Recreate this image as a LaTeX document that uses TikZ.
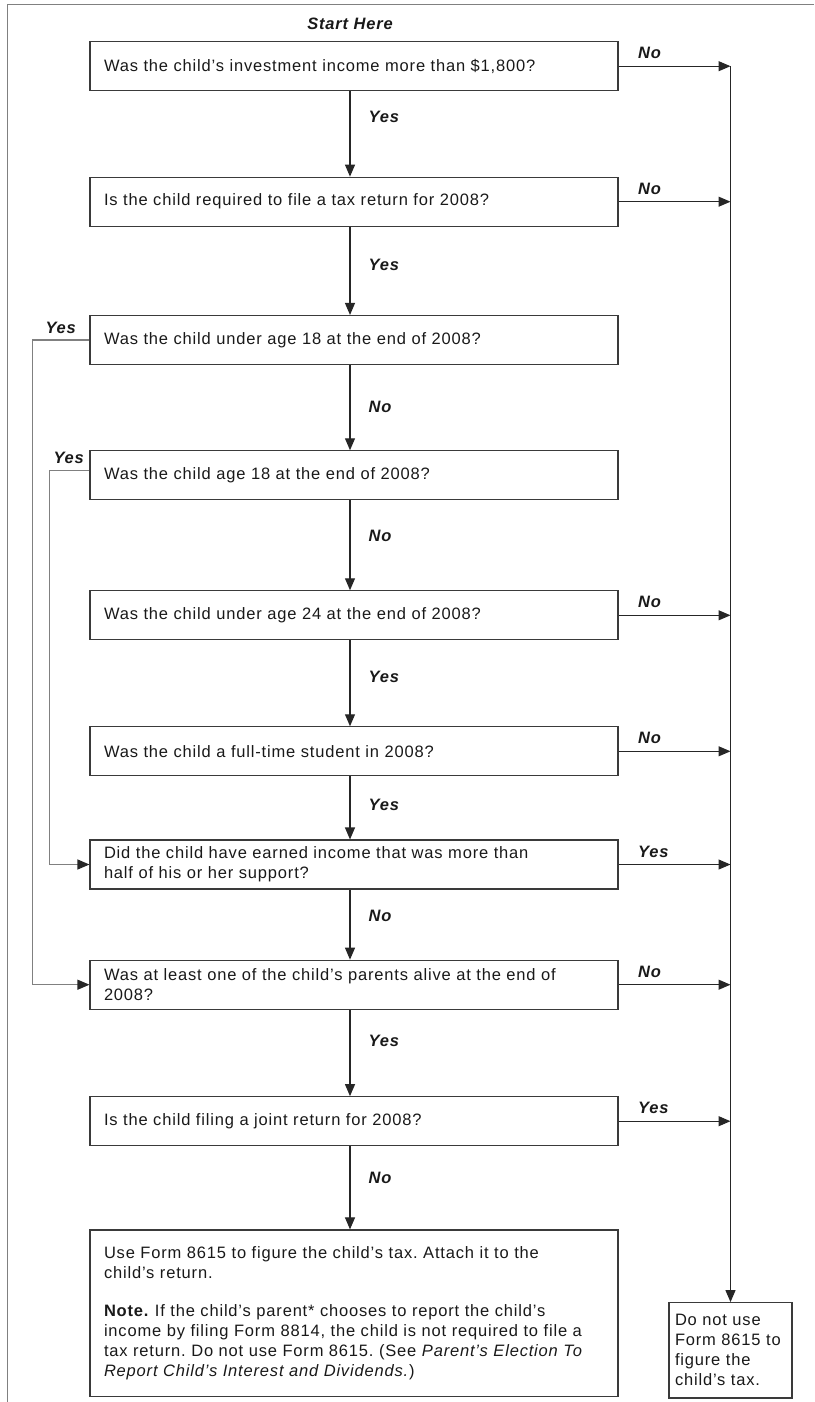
\documentclass[tikz,border=0pt]{standalone}
\usepackage{fontspec}
\setmainfont{Liberation Sans}[LetterSpace=5]
\usetikzlibrary{arrows.meta}

\definecolor{framegray}{HTML}{808080}
\definecolor{boxgray}{HTML}{3A3A3A}
\newcommand{\qfont}{\fontsize{16.5}{20}\selectfont}
\frenchspacing

\tikzset{
  question/.style={draw=boxgray, line width=1.1pt, rectangle,
    minimum width=528pt, minimum height=49pt, text width=500pt,
    inner xsep=14pt, inner ysep=0pt, align=left, font=\qfont, text=black!90},
  answer/.style={font=\qfont\bfseries\itshape, inner sep=0pt, text=black!90},
  flow/.style={->, line width=1.1pt, draw=black!85},
  route/.style={-{Triangle[length=12pt,width=10pt,color=black!85]}, line width=1.1pt, draw=framegray},
  frame/.style={line width=1.6pt, draw=framegray}
}

\begin{document}
\begin{tikzpicture}[x=1pt, y=-1pt, >={Triangle[length=12pt,width=10pt]}]
  \useasboundingbox (0,0) rectangle (814,1402);
  \draw[frame] (814,4.7) -- (7.3,4.7) -- (7.3,1402);

  % questions
  \node[answer] (start) at (350,24) {Start Here};
  \node[question] (b1) at (354,66.2) {Was the child’s investment income more than \$1,800?};
  \node[question] (b2) at (354,201.7) {Is the child required to file a tax return for 2008?};
  \node[question] (b3) at (354,340) {Was the child under age 18 at the end of 2008?};
  \node[question] (b4) at (354,475.3) {Was the child age 18 at the end of 2008?};
  \node[question] (b5) at (354,615.3) {Was the child under age 24 at the end of 2008?};
  \node[question] (b6) at (354,751.3) {Was the child a full-time student in 2008?};
  \node[question] (b7) at (354,864.5) {Did the child have earned income that was more than\\ half of his or her support?};
  \node[question] (b8) at (354,984.7) {Was at least one of the child’s parents alive at the end of\\ 2008?};
  \node[question] (b9) at (354,1121.2) {Is the child filing a joint return for 2008?};
  % results
  \node[question, minimum height=166.7pt] (b10) at (354,1313.3)
    {Use Form 8615 to figure the child’s tax. Attach it to the\\
     child’s return.\\[18pt]
     \textbf{Note.} If the child’s parent* chooses to report the child’s\\
     income by filing Form 8814, the child is not required to file a\\
     tax return. Do not use Form 8615. (See \textit{Parent’s Election To}\\
     \textit{Report Child’s Interest and Dividends.})};
  \node[question, minimum width=123pt, minimum height=95.3pt, text width=111pt,
    inner xsep=6pt] (res) at (730.5,1350.3)
    {Do not use\\ Form 8615 to\\ figure the\\ child’s tax.};

  % down the middle
  \draw[flow] (b1.south -| start) -- node[answer, pos=.30, anchor=west, xshift=18pt] {Yes} (b2.north -| start);
  \draw[flow] (b2.south -| start) -- node[answer, pos=.43, anchor=west, xshift=18pt] {Yes} (b3.north -| start);
  \draw[flow] (b3.south -| start) -- node[answer, pos=.49, anchor=west, xshift=18pt] {No} (b4.north -| start);
  \draw[flow] (b4.south -| start) -- node[answer, pos=.40, anchor=west, xshift=18pt] {No} (b5.north -| start);
  \draw[flow] (b5.south -| start) -- node[answer, pos=.42, anchor=west, xshift=18pt] {Yes} (b6.north -| start);
  \draw[flow] (b6.south -| start) -- node[answer, pos=.45, anchor=west, xshift=18pt] {Yes} (b7.north -| start);
  \draw[flow] (b7.south -| start) -- node[answer, pos=.37, anchor=west, xshift=18pt] {No} (b8.north -| start);
  \draw[flow] (b8.south -| start) -- node[answer, pos=.36, anchor=west, xshift=18pt] {Yes} (b9.north -| start);
  \draw[flow] (b9.south -| start) -- node[answer, pos=.38, anchor=west, xshift=18pt] {No} (b10.north -| start);

  % out to the right
  \coordinate (rtop) at (b1.east -| res.north);
  \draw[flow] (b1.east) node[answer, anchor=west, xshift=19pt, yshift=13pt] {No} -- (rtop);
  \draw[flow] (rtop) -- (res.north);
  \foreach \q/\a in {b2/No, b5/No, b6/No, b7/Yes, b8/No, b9/Yes}
    \draw[flow] (\q.east) node[answer, anchor=west, xshift=19pt, yshift=13pt] {\a} -- (\q.east -| res.north);

  % back round the left
  \draw[route] (b3.west) node[answer, anchor=east, xshift=-13pt, yshift=12pt] {Yes}
    -- ++(-57,0) |- (b8.west);
  \draw[route] ([yshift=5pt]b4.west) node[answer, anchor=east, xshift=-5pt, yshift=12pt] {Yes}
    -- ++(-40,0) |- (b7.west);
\end{tikzpicture}
\end{document}
